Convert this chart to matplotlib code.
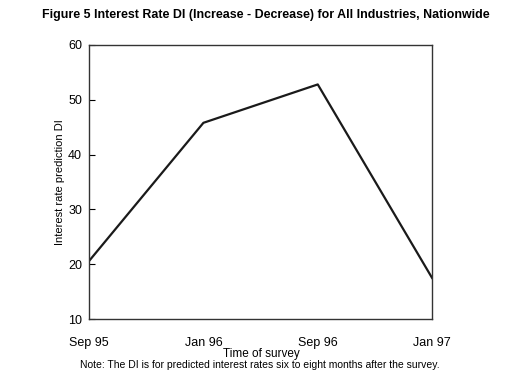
import matplotlib
matplotlib.use("Agg")
import matplotlib.pyplot as plt

plt.rcParams['font.family'] = ['Liberation Sans', 'DejaVu Sans']

# survey dates and DI values
surveys = ["Sep 95", "Jan 96", "Sep 96", "Jan 97"]
di_values = [20.6, 45.8, 52.8, 17.5]
y_ticks = [10, 20, 30, 40, 50, 60]

fig = plt.figure(figsize=(5.15, 3.91), dpi=100)
ax = fig.add_axes([0.173, 0.184, 0.666, 0.701])

x = list(range(len(surveys)))
ax.plot(x, di_values, color="#1a1a1a", linewidth=1.6)

ax.set_xlim(0, len(surveys) - 1)
ax.set_ylim(10, 60)
ax.set_yticks(y_ticks)
ax.set_xticks(x)
ax.set_xticklabels(surveys)
ax.tick_params(axis="y", direction="in", length=4, labelsize=9, pad=5)
ax.tick_params(axis="x", length=0, labelsize=9, pad=13)
for s in ax.spines.values():
    s.set_color("#333333")
    s.set_linewidth(1.0)

ax.set_ylabel("Interest rate prediction DI", fontsize=8, labelpad=2)

fig.text(0.508, 0.095, "Time of survey", ha="center", va="center", fontsize=8.5)
fig.text(0.516, 0.962, "Figure 5 Interest Rate DI (Increase - Decrease) for All Industries, Nationwide",
         ha="center", va="center", fontsize=8.9, fontweight="bold")
fig.text(0.505, 0.066, "Note: The DI is for predicted interest rates six to eight months after the survey.",
         ha="center", va="center", fontsize=7.5)

fig.savefig("out.png", dpi=100)
